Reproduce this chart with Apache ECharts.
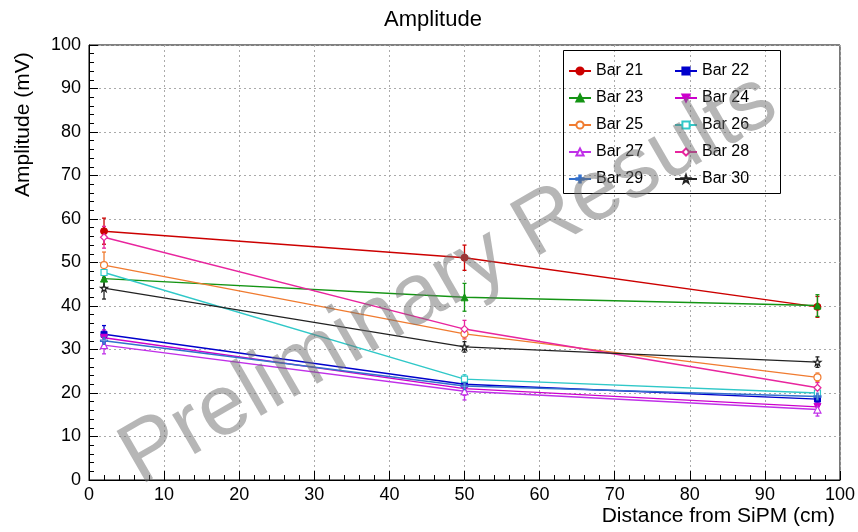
<!DOCTYPE html>
<html>
<head>
<meta charset="utf-8">
<script src="https://cdn.jsdelivr.net/npm/echarts@6/dist/echarts.min.js"></script>
<style>
  html, body { margin: 0; padding: 0; background: #fff; }
  #chart { width: 858px; height: 532px; }
</style>
</head>
<body>
<div id="chart"></div>
<script>
// Distance of each measurement point from the SiPM (cm)
const distanceCm = [2, 50, 97];

// Mean amplitude (mV) per bar at each distance, and its uncertainty
const bar21 = [57.2, 51.1, 39.8];
const bar22 = [33.5, 22.0, 18.6];
const bar23 = [46.3, 42.0, 40.1];
const bar24 = [32.7, 21.0, 16.8];
const bar25 = [49.4, 33.6, 23.6];
const bar26 = [47.7, 23.2, 20.0];
const bar27 = [31.0, 20.4, 16.2];
const bar28 = [55.8, 34.7, 21.2];
const bar29 = [32.0, 21.6, 19.2];
const bar30 = [44.1, 30.6, 27.1];

const err21 = [3.0, 2.9, 2.4];
const err22 = [2.0, 1.5, 1.2];
const err23 = [2.0, 3.2, 2.5];
const err24 = [1.8, 1.5, 1.2];
const err25 = [3.0, 1.2, 1.0];
const err26 = [2.0, 1.0, 1.0];
const err27 = [2.0, 2.0, 1.5];
const err28 = [2.5, 2.0, 1.2];
const err29 = [1.5, 1.2, 1.0];
const err30 = [2.5, 1.2, 1.2];

const barNames = ['Bar 21', 'Bar 22', 'Bar 23', 'Bar 24', 'Bar 25',
                  'Bar 26', 'Bar 27', 'Bar 28', 'Bar 29', 'Bar 30'];
const barValues = [bar21, bar22, bar23, bar24, bar25, bar26, bar27, bar28, bar29, bar30];
const barErrors = [err21, err22, err23, err24, err25, err26, err27, err28, err29, err30];

// Marker outlines for the open cross and star markers
const crossPath = 'path://M4,0H6V4H10V6H6V10H4V6H0V4H4Z';
const starPath = 'path://M5,0L6.2,3.6L10,3.6L7,5.9L8.1,9.5L5,7.3L1.9,9.5L3,5.9L0,3.6L3.8,3.6Z';

// Per-bar drawing style
const styles = [
  { color: '#cc0000', symbol: 'circle', filled: true },
  { color: '#0000cc', symbol: 'rect', filled: true },
  { color: '#149414', symbol: 'triangle', filled: true },
  { color: '#cc00cc', symbol: 'triangle', filled: true, rotate: 180 },
  { color: '#f07b30', symbol: 'circle', filled: false },
  { color: '#30c8c8', symbol: 'rect', filled: false },
  { color: '#c030e8', symbol: 'triangle', filled: false },
  { color: '#e8259e', symbol: 'diamond', filled: false },
  { color: '#3370cc', symbol: crossPath, filled: false },
  { color: '#222222', symbol: starPath, filled: false }
];

const FONT = 'Liberation Sans, Arial, Helvetica, sans-serif';

const series = [];
barNames.forEach((name, i) => {
  const st = styles[i];
  series.push({
    name: name,
    type: 'line',
    z: 3,
    data: distanceCm.map((d, k) => [d, barValues[i][k]]),
    symbol: st.symbol,
    symbolSize: st.symbol === 'rect' ? 6 : 7,
    symbolRotate: st.rotate || 0,
    showAllSymbol: true,
    lineStyle: { color: st.color, width: 1.4 },
    itemStyle: st.filled
      ? { color: st.color, borderColor: st.color, borderWidth: 1 }
      : { color: '#ffffff', borderColor: st.color, borderWidth: 1.2 },
    emphasis: { disabled: true },
    animation: false
  });
});

// Vertical error bars, drawn through the axis scales
barNames.forEach((name, i) => {
  const st = styles[i];
  series.push({
    name: name + ' err',
    type: 'custom',
    z: 2,
    data: distanceCm.map((d, k) => [d, barValues[i][k] - barErrors[i][k], barValues[i][k] + barErrors[i][k]]),
    renderItem: function (params, api) {
      const lo = api.coord([api.value(0), api.value(1)]);
      const hi = api.coord([api.value(0), api.value(2)]);
      const cap = 2;
      const style = { stroke: st.color, lineWidth: 1.3 };
      return {
        type: 'group',
        children: [
          { type: 'line', shape: { x1: lo[0], y1: lo[1], x2: hi[0], y2: hi[1] }, style: style },
          { type: 'line', shape: { x1: lo[0] - cap, y1: lo[1], x2: lo[0] + cap, y2: lo[1] }, style: style },
          { type: 'line', shape: { x1: hi[0] - cap, y1: hi[1], x2: hi[0] + cap, y2: hi[1] }, style: style }
        ]
      };
    },
    encode: { x: 0, y: [1, 2] },
    animation: false,
    silent: true
  });
});

const legendCommon = {
  orient: 'vertical',
  itemWidth: 22,
  itemHeight: 9,
  itemGap: 11,
  textStyle: { fontFamily: FONT, fontSize: 16, color: '#000' },
  inactiveColor: '#bbb',
  selectedMode: true
};

const chart = echarts.init(document.getElementById('chart'), null, { renderer: 'canvas' });
chart.setOption({
  backgroundColor: '#ffffff',
  animation: false,
  title: {
    text: 'Amplitude',
    left: 428,
    top: 4,
    textAlign: 'center',
    textStyle: { fontFamily: FONT, fontSize: 22, fontWeight: 'normal', color: '#000' }
  },
  legend: [
    Object.assign({ left: 563, top: 58, data: ['Bar 21', 'Bar 23', 'Bar 25', 'Bar 27', 'Bar 29'] }, legendCommon),
    Object.assign({ left: 669, top: 58, data: ['Bar 22', 'Bar 24', 'Bar 26', 'Bar 28', 'Bar 30'] }, legendCommon)
  ],
  grid: {
    left: 89,
    right: 10,
    top: 45,
    bottom: 52,
    show: true,
    borderColor: '#000',
    borderWidth: 1,
    backgroundColor: 'transparent'
  },
  xAxis: {
    type: 'value',
    min: 0,
    max: 100,
    interval: 10,
    axisLine: { show: true, lineStyle: { color: '#000', width: 1 } },
    axisTick: { show: true, inside: true, length: 9, lineStyle: { color: '#000' } },
    minorTick: { show: true, splitNumber: 5, length: 5, lineStyle: { color: '#000' } },
    axisLabel: { fontFamily: FONT, fontSize: 18, color: '#000', margin: 6 },
    splitLine: { show: true, lineStyle: { color: '#aaa', type: [2, 3], width: 1 } }
  },
  yAxis: {
    type: 'value',
    min: 0,
    max: 100,
    interval: 10,
    axisLine: { show: true, lineStyle: { color: '#000', width: 1 } },
    axisTick: { show: true, inside: true, length: 9, lineStyle: { color: '#000' } },
    minorTick: { show: true, splitNumber: 5, length: 5, lineStyle: { color: '#000' } },
    axisLabel: { fontFamily: FONT, fontSize: 18, color: '#000', margin: 8 },
    splitLine: { show: true, lineStyle: { color: '#aaa', type: [2, 3], width: 1 } }
  },
  graphic: [
    // Legend frame
    {
      type: 'rect',
      left: 563,
      top: 50,
      shape: { width: 217, height: 143 },
      style: { fill: 'transparent', stroke: '#000', lineWidth: 1 },
      z: 10,
      silent: true
    },
    // Axis titles
    {
      type: 'text',
      right: 23,
      top: 506,
      style: { text: 'Distance from SiPM (cm)', fontFamily: FONT, fontSize: 21, fill: '#000' },
      z: 10
    },
    {
      type: 'text',
      x: 13,
      y: 197,
      rotation: Math.PI / 2,
      style: { text: 'Amplitude (mV)', fontFamily: FONT, fontSize: 21, fill: '#000', align: 'left', verticalAlign: 'top' },
      z: 10
    },
    // Watermark
    {
      type: 'text',
      x: 449,
      y: 280,
      rotation: Math.PI / 6,
      style: {
        text: 'Preliminary Results',
        fontFamily: FONT,
        fontSize: 86,
        fill: 'rgba(110,110,110,0.5)',
        align: 'center',
        verticalAlign: 'middle'
      },
      z: 20,
      silent: true
    }
  ],
  series: series
});
</script>
</body>
</html>
